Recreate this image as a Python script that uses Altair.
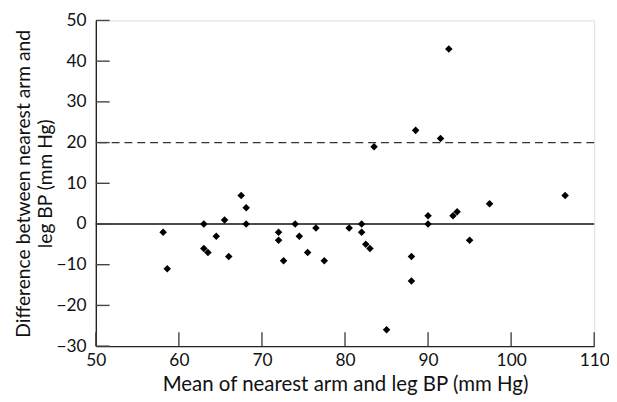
import altair as alt
import pandas as pd

mean_bp = [58.1, 58.6, 63.0, 63.0, 63.5, 64.5, 65.5, 66.0, 67.5, 68.1, 68.1,
           72.0, 72.0, 72.6, 74.0, 74.5, 75.5, 76.5, 77.5,
           80.5, 82.0, 82.0, 82.5, 83.0, 85.0, 88.0, 88.0, 90.0, 90.0,
           93.0, 93.5, 95.0, 97.4, 106.5,
           83.5, 88.5, 91.5, 92.5]
diff_bp = [-2, -11, 0, -6, -7, -3, 1, -8, 7, 4, 0,
           -2, -4, -9, 0, -3, -7, -1, -9,
           -1, 0, -2, -5, -6, -26, -8, -14, 2, 0,
           2, 3, -4, 5, 7,
           19, 23, 21, 43]
x_ticks = [50, 60, 70, 80, 90, 100, 110]
y_ticks = [-30, -20, -10, 0, 10, 20, 30, 40, 50]
ref_lines = [0, 20]
ref_dash = ["solid", "dashed"]

df = pd.DataFrame({"m": mean_bp, "d": diff_bp})
xt = pd.DataFrame({"xt": x_ticks})
yt = pd.DataFrame({"yt": y_ticks})
refs = pd.DataFrame({"y": ref_lines, "kind": ref_dash})

FONT = "Lato"
xs = alt.Scale(domain=[50, 110], nice=False, zero=False)
ys = alt.Scale(domain=[-30, 50], nice=False, zero=False)

xaxis = alt.Axis(values=x_ticks, tickSize=0, labelPadding=6, labelFontSize=17.5,
                 labelFont=FONT, labelColor="#111", title="Mean of nearest arm and leg BP (mm Hg)",
                 titleFont=FONT, titleFontSize=20.7, titleFontWeight="normal", titleColor="#111",
                 titlePadding=5, grid=False, domainColor="#222", domainWidth=1.4,
                 labelFlush=False)
yaxis = alt.Axis(values=y_ticks, tickSize=0, labelPadding=10, labelFontSize=17.5,
                 labelFont=FONT, labelColor="#111",
                 title=["Difference between nearest arm and", "leg BP (mm Hg)"],
                 titleFont=FONT, titleFontSize=19.5, titleFontWeight="normal", titleColor="#111",
                 titlePadding=0, titleLineHeight=23, grid=False, domainColor="#222", domainWidth=1.4,
                 labelFlush=False)

points = alt.Chart(df).mark_point(shape="diamond", filled=True, color="black", size=58, opacity=1).encode(
    x=alt.X("m:Q", scale=xs, axis=xaxis),
    y=alt.Y("d:Q", scale=ys, axis=yaxis),
)

solid = alt.Chart(refs[refs.kind == "solid"]).mark_rule(color="#111", strokeWidth=1.3).encode(
    y=alt.Y("y:Q", scale=ys)
)
dashed = alt.Chart(refs[refs.kind == "dashed"]).mark_rule(color="#333", strokeWidth=1.3, strokeDash=[8, 5]).encode(
    y=alt.Y("y:Q", scale=ys)
)

xtick = alt.Chart(xt).mark_rule(color="#444", strokeWidth=1.4).encode(
    x=alt.X("xt:Q", scale=xs), y=alt.value(316), y2=alt.value(330)
)
ytick = alt.Chart(yt).mark_rule(color="#444", strokeWidth=1.4).encode(
    y=alt.Y("yt:Q", scale=ys), x=alt.value(0), x2=alt.value(14)
)

chart = alt.layer(solid, dashed, xtick, ytick, points).properties(
    width=505, height=330,
    autosize=alt.AutoSizeParams(type="none"),
    padding={"left": 89, "top": 10, "right": 15, "bottom": 54},
).configure_view(stroke=None).configure(background="white")

chart.save("out.html", embed_options={"renderer": "svg", "actions": False})
